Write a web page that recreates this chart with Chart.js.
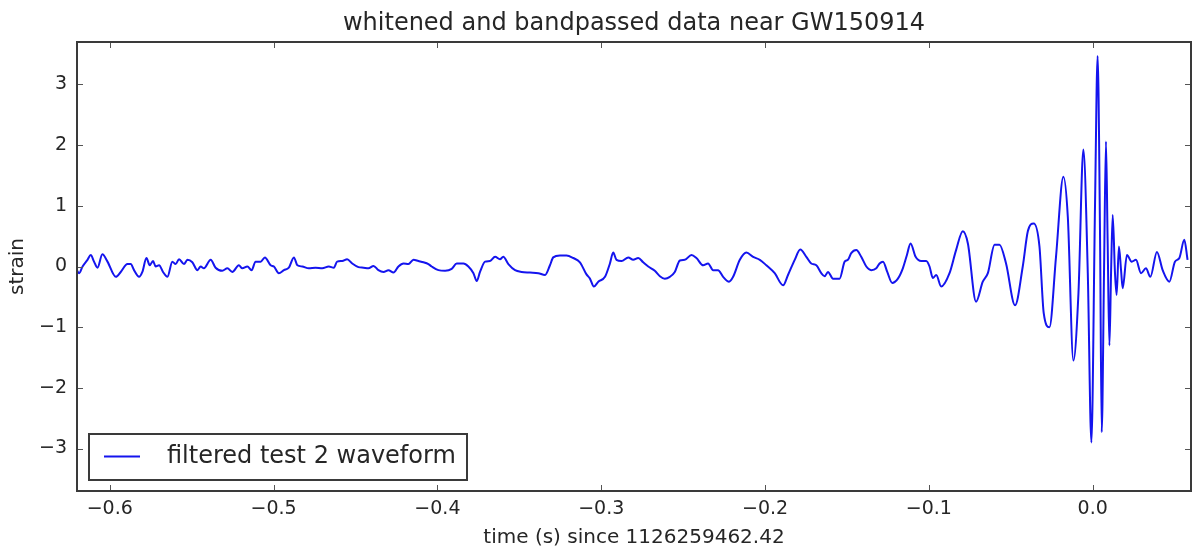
<!DOCTYPE html>
<html>
<head>
<meta charset="utf-8">
<title>whitened and bandpassed data near GW150914</title>
<script src="https://cdn.jsdelivr.net/npm/chart.js@4.4.1/dist/chart.umd.min.js"></script>
<style>
  html, body { margin: 0; padding: 0; background: #fff; overflow: hidden; }
  #wrap { width: 1192px; height: 551px; }
</style>
</head>
<body>
<div id="wrap"><canvas id="strainChart" width="1192" height="551"></canvas></div>
<script>
// time (s) since 1126259462.42
const times = [
  -0.6207, -0.6187, -0.6166, -0.6136, -0.6116, -0.6096, -0.6075, -0.6045, -0.6014, -0.5963,
  -0.5933, -0.5892, -0.5872, -0.5852, -0.5821, -0.5801, -0.5776, -0.5756, -0.5736, -0.5720,
  -0.5699, -0.5675, -0.5648, -0.5618, -0.5598, -0.5577, -0.5547, -0.5526, -0.5496, -0.5465,
  -0.5445, -0.5425, -0.5384, -0.5354, -0.5313, -0.5282, -0.5252, -0.5212, -0.5191, -0.5160,
  -0.5134, -0.5110, -0.5079, -0.5053, -0.5018, -0.4998, -0.4968, -0.4937, -0.4907, -0.4876,
  -0.4855, -0.4825, -0.4785, -0.4744, -0.4703, -0.4663, -0.4632, -0.4612, -0.4581, -0.4551,
  -0.4520, -0.4482, -0.4451, -0.4421, -0.4390, -0.4360, -0.4329, -0.4299, -0.4268, -0.4238,
  -0.4207, -0.4177, -0.4146, -0.4116, -0.4085, -0.4055, -0.4035, -0.3994, -0.3953, -0.3913,
  -0.3882, -0.3841, -0.3811, -0.3780, -0.3760, -0.3740, -0.3709, -0.3679, -0.3648, -0.3618,
  -0.3598, -0.3567, -0.3526, -0.3486, -0.3435, -0.3384, -0.3343, -0.3313, -0.3293, -0.3252,
  -0.3212, -0.3171, -0.3130, -0.3090, -0.3069, -0.3045, -0.3018, -0.2977, -0.2947, -0.2927,
  -0.2907, -0.2876, -0.2835, -0.2805, -0.2774, -0.2744, -0.2713, -0.2673, -0.2642, -0.2612,
  -0.2581, -0.2551, -0.2520, -0.2490, -0.2449, -0.2419, -0.2378, -0.2348, -0.2317, -0.2287,
  -0.2256, -0.2220, -0.2195, -0.2154, -0.2114, -0.2073, -0.2032, -0.1992, -0.1941, -0.1890,
  -0.1860, -0.1819, -0.1785, -0.1748, -0.1718, -0.1687, -0.1657, -0.1636, -0.1616, -0.1585,
  -0.1545, -0.1514, -0.1494, -0.1474, -0.1443, -0.1413, -0.1382, -0.1352, -0.1321, -0.1301,
  -0.1280, -0.1254, -0.1224, -0.1189, -0.1159, -0.1134, -0.1112, -0.1081, -0.1047, -0.1016,
  -0.0996, -0.0976, -0.0955, -0.0925, -0.0874, -0.0834, -0.0793, -0.0762, -0.0712, -0.0671,
  -0.0640, -0.0599, -0.0569, -0.0529, -0.0474, -0.0427, -0.0396, -0.0360, -0.0325, -0.0299,
  -0.0264, -0.0224, -0.0179, -0.0152, -0.0118, -0.0087, -0.0057, -0.0030, -0.0008, 0.0014,
  0.0030, 0.0045, 0.0055, 0.0069, 0.0081, 0.0091, 0.0102, 0.0112, 0.0122, 0.0136,
  0.0146, 0.0160, 0.0173, 0.0183, 0.0209, 0.0238, 0.0264, 0.0295, 0.0325, 0.0352,
  0.0392, 0.0427, 0.0468, 0.0502, 0.0529, 0.0559, 0.0579
];

// filtered test 2 waveform
const strain = [
  -0.03, -0.11, 0.00, 0.11, 0.19, 0.08, -0.02, 0.20, 0.08, -0.17,
  -0.09, 0.04, 0.04, -0.06, -0.17, -0.09, 0.14, 0.02, 0.09, 0.00,
  0.02, -0.09, -0.17, 0.08, 0.04, 0.12, 0.04, 0.11, 0.07, -0.06,
  0.00, -0.03, 0.11, -0.02, -0.07, -0.03, -0.09, 0.02, -0.03, 0.00,
  -0.06, 0.08, 0.08, 0.15, 0.02, 0.00, -0.11, -0.06, -0.02, 0.15,
  0.02, 0.00, -0.03, -0.02, -0.03, 0.00, -0.02, 0.08, 0.09, 0.12,
  0.05, -0.01, -0.02, -0.03, 0.01, -0.06, -0.09, -0.06, -0.10, 0.00,
  0.05, 0.04, 0.11, 0.09, 0.07, 0.04, 0.00, -0.06, -0.07, -0.04,
  0.05, 0.05, 0.00, -0.11, -0.24, -0.09, 0.08, 0.09, 0.16, 0.12,
  0.16, 0.04, -0.06, -0.09, -0.10, -0.11, -0.14, 0.02, 0.15, 0.18,
  0.18, 0.14, 0.07, -0.13, -0.20, -0.33, -0.25, -0.17, 0.05, 0.23,
  0.11, 0.09, 0.15, 0.11, 0.14, 0.07, 0.00, -0.07, -0.16, -0.20,
  -0.17, -0.09, 0.10, 0.11, 0.19, 0.14, 0.02, 0.05, -0.06, -0.06,
  -0.17, -0.25, -0.17, 0.11, 0.23, 0.16, 0.11, 0.02, -0.11, -0.31,
  -0.14, 0.11, 0.28, 0.16, 0.05, 0.02, -0.11, -0.16, -0.09, -0.20,
  -0.20, 0.08, 0.11, 0.22, 0.27, 0.16, 0.00, -0.06, -0.03, 0.05,
  0.08, -0.09, -0.27, -0.20, -0.03, 0.19, 0.38, 0.16, 0.09, 0.09,
  0.00, -0.19, -0.14, -0.33, -0.11, 0.27, 0.58, 0.38, -0.58, -0.25,
  -0.11, 0.36, 0.36, 0.05, -0.64, 0.00, 0.58, 0.71, 0.33, -0.77,
  -1.00, 0.16, 1.48, 0.82, -1.55, -0.44, 1.93, -0.11, -2.90, 0.99,
  3.47, 0.44, -2.73, -0.11, 2.06, 0.44, -1.30, -0.11, 0.85, -0.11,
  -0.47, 0.33, -0.06, -0.36, 0.19, 0.08, 0.11, -0.11, -0.03, -0.17,
  0.24, -0.06, -0.25, 0.08, 0.14, 0.44, 0.11
];

const xTicks = [-0.6, -0.5, -0.4, -0.3, -0.2, -0.1, 0.0];
const yTicks = [-3, -2, -1, 0, 1, 2, 3];

const FONT = "'DejaVu Sans', sans-serif";
const TEXT = '#262626';
const SPINE = '#3a3a3a';

function minusSign(s) {
  return String(s).replace('-', '\u2212');
}

// frame on all four sides, inward ticks, title and legend box
const frameAndLegend = {
  id: 'frameAndLegend',
  afterDraw(chart) {
    const { ctx, chartArea: a, scales } = chart;
    ctx.save();

    // ticks pointing inward on every side
    ctx.strokeStyle = '#555';
    ctx.lineWidth = 1;
    const len = 6;
    ctx.beginPath();
    xTicks.forEach(v => {
      const px = Math.round(scales.x.getPixelForValue(v)) + 0.5;
      ctx.moveTo(px, a.bottom); ctx.lineTo(px, a.bottom - len);
      ctx.moveTo(px, a.top); ctx.lineTo(px, a.top + len);
    });
    yTicks.forEach(v => {
      const py = Math.round(scales.y.getPixelForValue(v)) + 0.5;
      ctx.moveTo(a.left, py); ctx.lineTo(a.left + len, py);
      ctx.moveTo(a.right, py); ctx.lineTo(a.right - len, py);
    });
    ctx.stroke();

    // spines
    ctx.strokeStyle = SPINE;
    ctx.lineWidth = 2;
    ctx.strokeRect(a.left, a.top, a.right - a.left, a.bottom - a.top);

    // title
    ctx.fillStyle = TEXT;
    ctx.font = '24px ' + FONT;
    ctx.textAlign = 'center';
    ctx.textBaseline = 'middle';
    ctx.fillText('whitened and bandpassed data near GW150914', (a.left + a.right) / 2, 24);

    // legend in the lower left corner
    const bx = 89, by = 434, bw = 378, bh = 46;
    ctx.fillStyle = '#fff';
    ctx.fillRect(bx, by, bw, bh);
    ctx.strokeStyle = SPINE;
    ctx.lineWidth = 2;
    ctx.strokeRect(bx, by, bw, bh);
    ctx.strokeStyle = chart.data.datasets[0].borderColor;
    ctx.lineWidth = 2;
    ctx.beginPath();
    ctx.moveTo(bx + 15, by + 22.5);
    ctx.lineTo(bx + 51, by + 22.5);
    ctx.stroke();
    ctx.fillStyle = TEXT;
    ctx.font = '24px ' + FONT;
    ctx.textAlign = 'left';
    ctx.textBaseline = 'middle';
    ctx.fillText(chart.data.datasets[0].label, bx + 78, by + 23);

    ctx.restore();
  }
};

const ctx = document.getElementById('strainChart');
new Chart(ctx, {
  type: 'line',
  data: {
    datasets: [{
      label: 'filtered test 2 waveform',
      data: times.map((t, i) => ({ x: t, y: strain[i] })),
      borderColor: '#1414ee',
      borderWidth: 2,
      pointRadius: 0,
      cubicInterpolationMode: 'monotone',
      fill: false
    }]
  },
  options: {
    responsive: false,
    animation: false,
    layout: { padding: { top: 42, right: 1, bottom: 0, left: 0 } },
    plugins: {
      legend: { display: false },
      tooltip: { enabled: false },
      title: { display: false }
    },
    scales: {
      x: {
        type: 'linear',
        min: -0.62,
        max: 0.06,
        grid: { display: false, drawTicks: false },
        border: { display: false },
        afterBuildTicks: s => { s.ticks = xTicks.map(v => ({ value: v })); },
        afterFit: s => { s.height = 60; },
        ticks: {
          padding: 7,
          color: TEXT,
          font: { family: FONT, size: 19 },
          maxRotation: 0,
          autoSkip: false,
          callback: v => minusSign(v.toFixed(1))
        },
        title: {
          display: true,
          text: 'time (s) since 1126259462.42',
          color: TEXT,
          font: { family: FONT, size: 20 },
          padding: { top: 0, bottom: 1 }
        }
      },
      y: {
        min: -3.7,
        max: 3.7,
        grid: { display: false, drawTicks: false },
        border: { display: false },
        afterBuildTicks: s => { s.ticks = yTicks.map(v => ({ value: v })); },
        afterFit: s => { s.width = 77; },
        ticks: {
          padding: 10,
          color: TEXT,
          font: { family: FONT, size: 19 },
          autoSkip: false,
          callback: v => minusSign(v)
        },
        title: {
          display: true,
          text: 'strain',
          color: TEXT,
          font: { family: FONT, size: 20 },
          padding: { top: 6, bottom: 0 }
        }
      }
    }
  },
  plugins: [frameAndLegend]
});
</script>
</body>
</html>
